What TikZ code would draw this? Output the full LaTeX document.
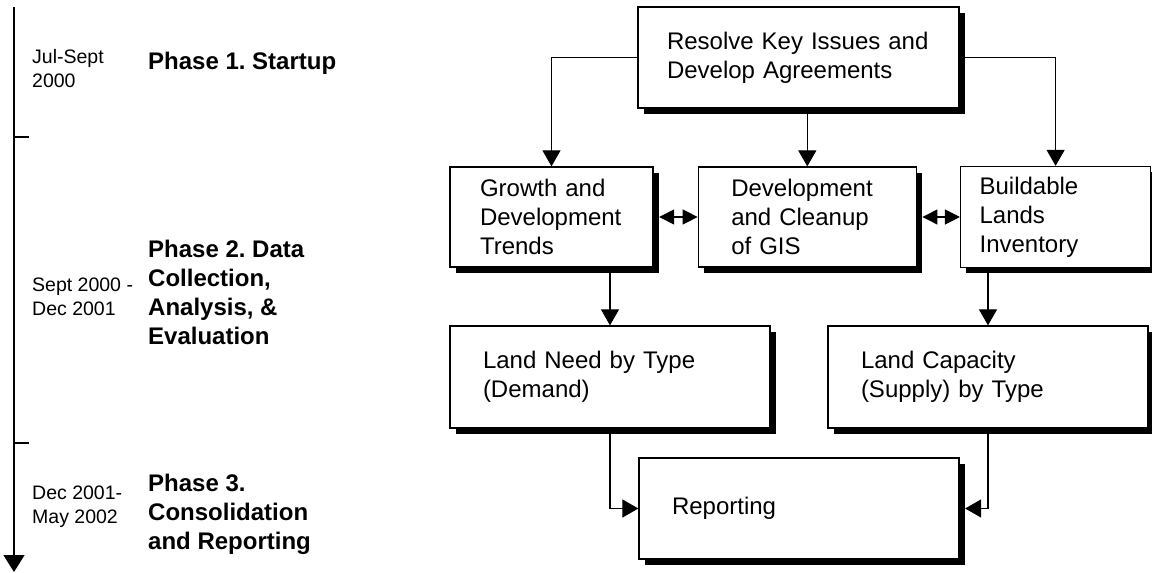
\documentclass[tikz,border=0pt]{standalone}
\usepackage{fontspec}
\setmainfont{Liberation Sans}
\frenchspacing
\usetikzlibrary{arrows.meta, positioning, shadows}

\begin{document}
\begin{tikzpicture}[
        x=1pt, y=-1pt,
        box/.style={rectangle, draw=black, fill=white, line width=1.3pt, align=left, inner ysep=0pt, font=\fontsize{24}{29}\selectfont, drop shadow={shadow xshift=5.5pt, shadow yshift=-5.5pt, fill=black, opacity=1}},
        arr/.style={-{Triangle[width=18pt, length=16pt]}, line width=1.2pt},
        dblarr/.style={{Triangle[width=15pt, length=15pt]}-{Triangle[width=15pt, length=15pt]}, line width=1.2pt},
        datelbl/.style={anchor=base west, align=left, inner sep=0pt, font=\fontsize{19.5}{23.5}\selectfont},
        phaselbl/.style={anchor=base west, align=left, inner sep=0pt, font=\bfseries\fontsize{24}{28.7}\selectfont}
    ]
        \useasboundingbox (0,0) rectangle (1152,573);

        % timeline
        \coordinate (tltop) at (14,7);
        \coordinate (tlend) at (14,572);
        \draw[-{Triangle[width=21pt, length=17pt]}, line width=1.3pt] (tltop) -- (tlend);
        \draw[line width=1.3pt] (14,137) -- (29,137);
        \draw[line width=1.3pt] (14,443) -- (29,443);

        % labels (base = last line)
        \node[datelbl] (date1) at (32,87) {Jul-Sept\\2000};
        \node[phaselbl] (phase1) at (148,69) {Phase 1. Startup};
        \node[datelbl] (date2) at (32,315) {Sept 2000 -\\Dec 2001};
        \node[phaselbl] (phase2) at (148,344) {Phase 2. Data\\Collection,\\Analysis, \&\\Evaluation};
        \node[datelbl] (date3) at (32,523) {Dec 2001-\\May 2002};
        \node[phaselbl] (phase3) at (148,549) {Phase 3.\\Consolidation\\and Reporting};

        % boxes
        \node[box, minimum height=101pt, text width=263pt, inner xsep=29pt] (resolve) at (798.5,57.5) {Resolve Key Issues and\\Develop Agreements};
        \node[box, minimum height=100pt, text width=143pt, inner xsep=30pt] (trends) at (551.5,217) {Growth and\\Development\\Trends};
        \node[box, minimum height=100pt, text width=152pt, inner xsep=33pt, right=44pt of trends] (gis) {Development\\and Cleanup\\of GIS};
        \node[box, minimum height=101pt, text width=152pt, inner xsep=19pt, right=43pt of gis] (inventory) {Buildable\\Lands\\Inventory};
        \node[box, minimum height=102pt, text width=254pt, inner xsep=33pt] (demand) at (610,377) {Land Need by Type\\(Demand)};
        \node[box, minimum height=102pt, text width=254pt, inner xsep=33pt] (supply) at (988,377) {Land Capacity\\(Supply) by Type};
        \node[box, minimum height=101pt, text width=254pt, inner xsep=33pt] (reporting) at (799,508.5) {Reporting};

        \draw[arr] (resolve.west) -| (trends.north);
        \draw[arr] (resolve.south -| gis.north) -- (gis.north);
        \draw[arr] (resolve.east) -| (inventory.north);
        \draw[dblarr, shorten <=5.5pt] (trends.east) -- (gis.west);
        \draw[dblarr, shorten <=5.5pt] (gis.east) -- (inventory.west);
        \draw[arr] (trends.south -| demand.north) -- (demand.north);
        \draw[arr] (inventory.south -| supply.north) -- (supply.north);
        \draw[arr] (demand.south) |- (reporting.west);
        \draw[arr, shorten >=5.5pt] (supply.south) |- (reporting.east);
    \end{tikzpicture}
\end{document}
